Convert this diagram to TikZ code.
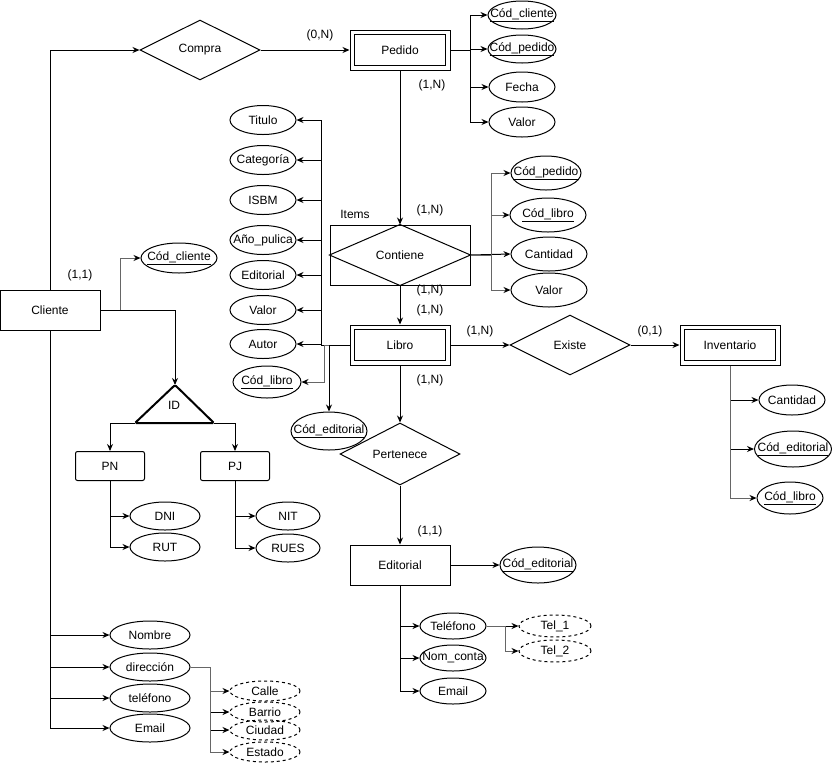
\documentclass[tikz,border=0pt]{standalone}
\usepackage{fontspec}
\setmainfont{Liberation Sans}
\usetikzlibrary{shapes.geometric,arrows.meta}
\newcommand\zw[1]{\makebox[0pt]{#1}}
\begin{document}
\begin{tikzpicture}[x=1pt,y=-1pt,line width=1pt,
  every node/.style={font=\fontsize{12}{14}\selectfont},
  >={Stealth[length=7pt,width=6pt]},
  ent/.style={draw,rectangle,minimum width=100,minimum height=40,inner sep=0pt},
  rel/.style={draw,diamond,aspect=2,minimum width=120,minimum height=60,inner sep=0pt},
  att/.style 2 args={draw,ellipse,minimum width=#1,minimum height=#2,inner sep=0pt},
  datt/.style 2 args={draw,ellipse,dash pattern=on 3pt off 3pt,minimum width=#1,minimum height=#2,inner sep=0pt},
  sub/.style={draw,rectangle,rounded corners=2pt,minimum width=69,minimum height=29,inner sep=0pt},
  lbl/.style={inner sep=0pt},
  gl/.style={draw=black!60,-{Stealth[length=7pt,width=6pt,black]}}]
\useasboundingbox (0,0) rectangle (832,764);

% entities and relationships
\node[ent] (cliente) at (50,310) {Cliente};
\node[rel] (compra) at (200,50) {Compra};
\node[ent] (pedido) at (400,50) {Pedido};
\draw ([shift={(5,5)}]pedido.north west) rectangle ([shift={(-5,-5)}]pedido.south east);
\node[draw,rectangle,minimum width=140,minimum height=60,inner sep=0pt] (contiene) at (400,255) {Contiene};
\draw (contiene.west) -- (contiene.north) -- (contiene.east) -- (contiene.south) -- cycle;
\node[ent] (libro) at (400,345) {Libro};
\draw ([shift={(5,5)}]libro.north west) rectangle ([shift={(-5,-5)}]libro.south east);
\node[rel] (existe) at (570,345) {Existe};
\node[ent] (inv) at (730,345) {Inventario};
\draw ([shift={(5,5)}]inv.north west) rectangle ([shift={(-5,-5)}]inv.south east);
\node[rel,minimum height=62] (pertenece) at (400,454) {Pertenece};
\node[ent] (editorial) at (400,565) {Editorial};

% Pedido attributes
\node[att={68}{28}] (pcc) at (522,15) {\zw{\underline{Cód\_cliente}}};
\node[att={68}{28}] (pcp) at (522,49) {\zw{\underline{Cód\_pedido}}};
\node[att={66}{30}] (pfe) at (522,87) {\zw{Fecha}};
\node[att={66}{30}] (pva) at (522,122) {\zw{Valor}};

% Contiene attributes
\node[att={70}{34}] (ccp) at (546,173) {\zw{\underline{Cód\_pedido}}};
\node[att={76}{34}] (ccl) at (548,215) {\zw{\underline{Cód\_libro}}};
\node[att={76}{34}] (cca) at (549,254) {\zw{Cantidad}};
\node[att={76}{34}] (cva) at (549,290) {\zw{Valor}};

% Libro attributes
\node[att={66}{29}] (ltit) at (263,120) {\zw{Titulo}};
\node[att={66}{29}] (lcat) at (263,160) {\zw{Categoría}};
\node[att={66}{29}] (lisb) at (263,200) {\zw{ISBM}};
\node[att={66}{29}] (lano) at (263,240) {\zw{Año\_pulica}};
\node[att={66}{29}] (ledi) at (263,275) {\zw{Editorial}};
\node[att={66}{29}] (lval) at (263,310) {\zw{Valor}};
\node[att={66}{29}] (laut) at (263,344) {\zw{Autor}};
\node[att={68}{32}] (lclib) at (267,382) {\zw{\underline{Cód\_libro}}};
\node[att={76}{38}] (lced) at (329,431) {\zw{\underline{Cód\_editorial}}};

% Inventario attributes
\node[att={66}{30}] (icant) at (792,400) {\zw{Cantidad}};
\node[att={77}{36}] (iced) at (793,449) {\zw{\underline{Cód\_editorial}}};
\node[att={66}{32}] (iclib) at (790,498) {\zw{\underline{Cód\_libro}}};

% Editorial attributes
\node[att={76}{36}] (eced) at (538,565) {\zw{\underline{Cód\_editorial}}};
\node[att={66}{26}] (etel) at (453,626) {\zw{Teléfono}};
\node[att={66}{26}] (enom) at (453,658) {\zw{Nom\_conta}};
\node[att={66}{26}] (eema) at (453,691) {\zw{Email}};
\node[datt={72}{22}] (tel1) at (555,626) {\zw{Tel\_1}};
\node[datt={72}{22}] (tel2) at (555,651) {\zw{Tel\_2}};

% Cliente attributes
\node[att={76}{30}] (ccli) at (179,258) {\zw{\underline{Cód\_cliente}}};
\node[att={80}{28}] (cnom) at (150,635) {\zw{Nombre}};
\node[att={80}{28}] (cdir) at (150,667) {\zw{dirección}};
\node[att={80}{28}] (ctel) at (150,698) {\zw{teléfono}};
\node[att={80}{28}] (cema) at (150,728) {\zw{Email}};
\node[datt={70}{20}] (calle) at (265,691) {\zw{Calle}};
\node[datt={70}{20}] (barrio) at (265,712) {\zw{Barrio}};
\node[datt={70}{20}] (ciudad) at (265,730) {\zw{Ciudad}};
\node[datt={70}{20}] (estado) at (265,752) {\zw{Estado}};

% ID specialization
\coordinate (idtop) at (175,385);
\coordinate (idl) at (135,423);
\coordinate (idr) at (214,423);
\draw[line width=2pt,rounded corners=1.5pt] (idtop) -- (idr) -- (idl) -- cycle;
\node[lbl] (idlbl) at (174,405) {ID};
\node[sub] (pn) at (110,466) {PN};
\node[sub] (pj) at (235,466) {PJ};
\node[att={70}{28}] (dni) at (165,516) {\zw{DNI}};
\node[att={70}{28}] (rut) at (165,547) {\zw{RUT}};
\node[att={64}{28}] (nit) at (288,516) {\zw{NIT}};
\node[att={64}{28}] (rues) at (288,548) {\zw{RUES}};

% labels
\node[lbl] (l1) at (320,35) {(0,N)};
\node[lbl] (l2) at (432,85) {(1,N)};
\node[lbl] (l3) at (430,210) {(1,N)};
\node[lbl] (l4) at (355,214) {Items};
\node[lbl] (l5) at (430,290) {(1,N)};
\node[lbl] (l6) at (430,310) {(1,N)};
\node[lbl] (l7) at (430,380) {(1,N)};
\node[lbl] (l8) at (430,531) {(1,1)};
\node[lbl] (l9) at (480,331) {(1,N)};
\node[lbl] (l10) at (650,331) {(0,1)};
\node[lbl] (l11) at (80,275) {(1,1)};

% connectors
\draw[->] (cliente.north) |- (compra.west);
\draw[->] (compra.east) -- (pedido.west);
\foreach \n in {pcc,pcp,pfe,pva} \draw[->] (pedido.east) -- ++(20,0) |- (\n.west);
\draw[->] (pedido.south) -- (contiene.north);
\draw[->] (contiene.east) -- (cca.west);
\foreach \n in {ccp,ccl,cva} \draw[gl] (contiene.east) -- ++(21,0) |- (\n.west);
\draw[->] (contiene.south) -- (libro.north);
\foreach \n in {ltit,lcat,lisb,lano,ledi,lval,laut} \draw[->] (libro.west) -- ++(-28,0) |- (\n.east);
\draw[gl] (libro.west) -- ++(-25,0) |- (lclib.east);
\draw[->] (libro.west) -| (lced.north);
\draw[->] (libro.east) -- (existe.west);
\draw[->] (existe.east) -- (inv.west);
\draw[->] (inv.south) |- (icant.west);
\draw[->] (inv.south) |- (iced.west);
\draw[gl] (inv.south) |- (iclib.west);
\draw[->] (libro.south) -- (pertenece.north);
\draw[->] (pertenece.south) -- (editorial.north);
\draw[->] (editorial.east) -- (eced.west);
\foreach \n in {etel,enom,eema} \draw[->] (editorial.south) |- (\n.west);
\draw[->] (etel.east) -- ++(19,0) |- (tel1.west);
\draw[gl] (etel.east) -- ++(19,0) |- (tel2.west);
\draw[gl] (cliente.east) -- ++(20,0) |- (ccli.west);
\draw[->] (cliente.east) -| (idtop);
\draw[->] (idl) -| (pn.north);
\draw[->] (idr) -| (pj.north);
\foreach \n in {dni,rut} \draw[->] (pn.south) |- (\n.west);
\foreach \n in {nit,rues} \draw[->] (pj.south) |- (\n.west);
\foreach \n in {cnom,cdir,ctel,cema} \draw[->] (cliente.south) |- (\n.west);
\draw[gl] (cdir.east) -- ++(20,0) |- (calle.west);
\foreach \n in {barrio,ciudad} \draw[->] (cdir.east) -- ++(20,0) |- (\n.west);
\draw[gl] (cdir.east) -- ++(20,0) |- (estado.west);
\end{tikzpicture}
\end{document}
